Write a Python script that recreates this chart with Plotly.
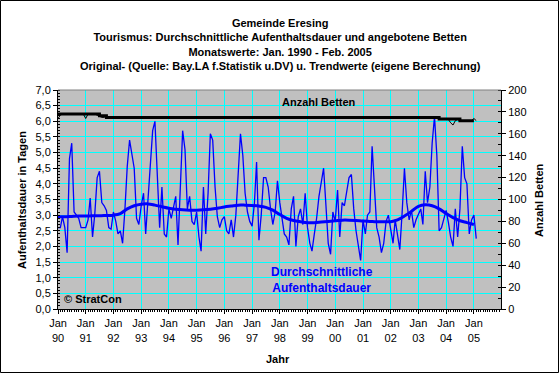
import plotly.graph_objects as go
import pandas as pd

# ---------------- data ----------------
years = list(range(1990, 2006))
year_labels = ["90", "91", "92", "93", "94", "95", "96", "97", "98", "99",
               "00", "01", "02", "03", "04", "05"]

# average length of stay (days), monthly Jan 1990 - Feb 2005
stay_1990 = [2.6, 2.6, 2.95, 2.6, 1.8, 4.8, 5.3, 3.1, 3.0, 2.9, 2.6, 2.6]
stay_1991 = [2.6, 2.85, 3.55, 2.3, 3.05, 4.2, 4.4, 3.4, 3.3, 3.15, 2.6, 2.55]
stay_1992 = [3.1, 2.8, 2.4, 2.5, 2.1, 3.2, 4.55, 5.4, 5.0, 4.5, 2.9, 2.7]
stay_1993 = [3.3, 3.7, 2.4, 3.5, 4.5, 5.7, 6.0, 4.5, 2.6, 3.9, 2.4, 2.3]
stay_1994 = [3.2, 2.9, 3.2, 3.6, 2.05, 3.7, 5.7, 5.1, 3.2, 3.6, 2.8, 2.7]
stay_1995 = [3.1, 2.3, 1.85, 3.9, 2.4, 3.7, 5.6, 5.4, 3.9, 2.95, 2.6, 2.85]
stay_1996 = [2.95, 2.5, 2.4, 2.85, 2.3, 3.0, 4.3, 5.6, 4.9, 3.7, 3.1, 2.8]
stay_1997 = [2.65, 3.4, 4.7, 2.2, 3.0, 4.2, 4.2, 3.9, 3.2, 2.7, 3.1, 4.1]
stay_1998 = [3.4, 2.85, 2.4, 2.3, 2.05, 3.2, 3.6, 2.0, 2.95, 3.2, 2.7, 3.7]
stay_1999 = [2.6, 2.1, 1.85, 2.4, 2.9, 3.6, 4.0, 4.5, 3.3, 2.1, 1.75, 3.1]
stay_2000 = [2.8, 3.8, 2.3, 3.4, 3.3, 3.7, 4.2, 4.3, 3.2, 2.5, 2.0, 1.55]
stay_2001 = [2.85, 2.4, 3.0, 3.1, 5.2, 3.7, 2.6, 2.3, 1.8, 2.1, 2.8, 3.0]
stay_2002 = [2.6, 2.1, 2.85, 2.3, 1.9, 3.1, 4.5, 3.4, 2.85, 3.15, 2.6, 2.85]
stay_2003 = [3.0, 3.2, 2.7, 4.4, 3.4, 3.9, 5.3, 6.15, 4.9, 2.5, 2.6, 2.85]
stay_2004 = [3.15, 2.75, 2.3, 2.0, 3.2, 2.3, 3.2, 5.2, 4.2, 4.0, 2.4, 2.85]
stay_2005 = [3.0, 2.25]

# trend of length of stay, quarterly (Jan, Apr, Jul, Oct)
stay_trend = [2.95, 2.95, 2.96, 2.97,
              2.97, 2.98, 2.98, 2.99,
              3.00, 3.05, 3.20, 3.30,
              3.35, 3.36, 3.32, 3.27,
              3.22, 3.19, 3.17, 3.16,
              3.16, 3.17, 3.19, 3.22,
              3.26, 3.29, 3.32, 3.32,
              3.31, 3.29, 3.25, 3.16,
              3.02, 2.90, 2.83, 2.79,
              2.76, 2.76, 2.78, 2.80,
              2.82, 2.84, 2.84, 2.83,
              2.81, 2.80, 2.79, 2.79,
              2.79, 2.85, 2.97, 3.12,
              3.28, 3.33, 3.30, 3.20,
              3.05, 2.92, 2.82, 2.76,
              2.70]

# beds offered, monthly
beds_1990 = [174, 177, 178, 178, 178, 178, 178, 178, 178, 178, 178, 178]
beds_1991 = [174, 178, 178, 178, 178, 177, 176, 175, 175, 176, 175, 175]
beds_1992 = [175, 175, 175, 175, 175, 175, 175, 175, 175, 175, 175, 175]
beds_1993 = [175, 175, 175, 175, 175, 175, 175, 175, 175, 175, 175, 175]
beds_1994 = [175, 175, 175, 175, 175, 175, 175, 175, 175, 175, 175, 175]
beds_1995 = [175, 175, 175, 175, 175, 175, 175, 175, 175, 175, 175, 175]
beds_1996 = [175, 175, 175, 175, 175, 175, 175, 175, 175, 175, 175, 174]
beds_1997 = [175, 174, 175, 175, 175, 175, 175, 175, 175, 175, 174, 175]
beds_1998 = [174, 175, 175, 175, 175, 175, 175, 175, 175, 175, 175, 175]
beds_1999 = [174, 175, 175, 175, 175, 175, 175, 175, 175, 175, 175, 175]
beds_2000 = [175, 175, 175, 175, 175, 175, 175, 175, 175, 175, 175, 175]
beds_2001 = [175, 175, 175, 175, 175, 175, 175, 175, 175, 175, 175, 175]
beds_2002 = [175, 175, 175, 175, 175, 175, 175, 175, 175, 175, 175, 175]
beds_2003 = [175, 175, 175, 175, 175, 175, 175, 175, 175, 173.5, 173.5, 173.5]
beds_2004 = [173.5, 173, 170, 168, 172, 173, 172, 172, 172, 172, 172, 172]
beds_2005 = [174, 172]

# trend of beds, quarterly
beds_trend = [178, 178, 178, 178,
              178, 178, 176.5, 175,
              175, 175, 175, 175,
              175, 175, 175, 175,
              175, 175, 175, 175,
              175, 175, 175, 175,
              175, 175, 175, 175,
              175, 175, 175, 175,
              175, 175, 175, 175,
              175, 175, 175, 175,
              175, 175, 175, 175,
              175, 175, 175, 175,
              175, 175, 175, 175,
              175, 175, 175, 173.5,
              173.5, 173.5, 172, 172,
              172]

stay = (stay_1990 + stay_1991 + stay_1992 + stay_1993 + stay_1994 + stay_1995 +
        stay_1996 + stay_1997 + stay_1998 + stay_1999 + stay_2000 + stay_2001 +
        stay_2002 + stay_2003 + stay_2004 + stay_2005)
beds = (beds_1990 + beds_1991 + beds_1992 + beds_1993 + beds_1994 + beds_1995 +
        beds_1996 + beds_1997 + beds_1998 + beds_1999 + beds_2000 + beds_2001 +
        beds_2002 + beds_2003 + beds_2004 + beds_2005)

months = pd.date_range("1990-01-01", periods=len(stay), freq="MS")
quarters = pd.date_range("1990-01-01", periods=len(stay_trend), freq="QS")

# ---------------- figure ----------------
FONT = "Liberation Sans, Arial, sans-serif"
L, R, T, B = 58, 59, 90, 65
W, H = 560, 374
PW, PH = W - L - R, H - T - B


def px(x):
    return (x - L) / PW


def py(y):
    return (H - B - y) / PH


fig = go.Figure()
fig.add_trace(go.Scatter(x=quarters, y=beds_trend, yaxis="y2", mode="lines",
                         line=dict(color="black", width=3, shape="hv"),
                         hoverinfo="skip", showlegend=False))
fig.add_trace(go.Scatter(x=months, y=beds, yaxis="y2", mode="lines",
                         line=dict(color="black", width=1),
                         showlegend=False))
fig.add_trace(go.Scatter(x=months, y=stay, mode="lines",
                         line=dict(color="#0000FF", width=1.3),
                         showlegend=False))
fig.add_trace(go.Scatter(x=quarters, y=stay_trend, mode="lines",
                         line=dict(color="#0000FF", width=3, shape="spline"),
                         showlegend=False))

tickvals = [pd.Timestamp(f"{y}-01-01") for y in years]
ticktext = [f"Jan<br>{t}" for t in year_labels]

fig.update_layout(
    width=W, height=H,
    margin=dict(l=L, r=R, t=T, b=B, pad=0),
    paper_bgcolor="white",
    plot_bgcolor="#C0C0C0",
    separators=",.",
    font=dict(family=FONT, size=11, color="black"),
    xaxis=dict(
        range=["1990-01-01", "2005-12-24"],
        tickvals=tickvals, ticktext=ticktext, tickangle=0,
        showgrid=True, gridcolor="#00FFFF", gridwidth=1,
        showline=True, linecolor="black", linewidth=1,
        ticks="outside", ticklen=4, tickcolor="black",
        minor=dict(dtick="M1", ticks="outside", ticklen=2, tickcolor="black",
                   showgrid=False),
        zeroline=False,
        tickfont=dict(size=11),
    ),
    yaxis=dict(
        range=[0, 7], dtick=0.5, tickformat=".1f",
        showgrid=True, gridcolor="#00FFFF", gridwidth=1,
        showline=True, linecolor="black", linewidth=1,
        ticks="outside", ticklen=4, tickcolor="black",
        minor=dict(dtick=0.1, ticks="inside", ticklen=2, tickcolor="black",
                   showgrid=False),
        zeroline=False,
        tickfont=dict(size=11),
    ),
    yaxis2=dict(
        range=[0, 200], dtick=20, overlaying="y", side="right",
        showgrid=False,
        showline=True, linecolor="black", linewidth=1,
        ticks="outside", ticklen=4, tickcolor="black",
        minor=dict(dtick=10, ticks="inside", ticklen=3, tickcolor="black"),
        zeroline=False,
        tickfont=dict(size=11),
    ),
    shapes=[
        # plot area top border
        dict(type="line", xref="paper", yref="paper", x0=0, x1=1, y0=1, y1=1,
             line=dict(color="#808080", width=1)),
        # outer frame
        dict(type="rect", xref="paper", yref="paper",
             x0=px(0.5), x1=px(558.5), y0=py(372.5), y1=py(0.5),
             line=dict(color="black", width=1)),
    ],
    annotations=[
        dict(text="<b>Gemeinde Eresing<br>Tourismus: Durchschnittliche Aufenthaltsdauer und angebotene Betten"
                  "<br>Monatswerte: Jan. 1990 - Feb. 2005"
                  "<br>Original- (Quelle: Bay.LA f.Statistik u.DV) u. Trendwerte (eigene Berechnung)</b>",
             xref="paper", yref="paper", x=px(280), y=py(44.5),
             xanchor="center", yanchor="middle", showarrow=False,
             font=dict(size=11, family=FONT)),
        dict(text="<b>Aufenthaltsdauer in Tagen</b>", textangle=-90,
             xref="paper", yref="paper", x=px(22), y=py(200),
             xanchor="center", yanchor="middle", showarrow=False,
             font=dict(size=11, family=FONT)),
        dict(text="<b>Anzahl Betten</b>", textangle=-90,
             xref="paper", yref="paper", x=px(539), y=py(200),
             xanchor="center", yanchor="middle", showarrow=False,
             font=dict(size=11, family=FONT)),
        dict(text="<b>Jahr</b>",
             xref="paper", yref="paper", x=px(278), y=py(359),
             xanchor="center", yanchor="middle", showarrow=False,
             font=dict(size=11, family=FONT)),
        dict(text="<b>Anzahl Betten</b>",
             xref="paper", yref="paper", x=px(318.5), y=py(102),
             xanchor="center", yanchor="middle", showarrow=False,
             font=dict(size=11, family=FONT, color="black")),
        dict(text="<b>Durchschnittliche<br>Aufenthaltsdauer</b>",
             xref="paper", yref="paper", x=px(322), y=py(279.5),
             xanchor="center", yanchor="middle", showarrow=False,
             font=dict(size=12, family=FONT, color="#0000FF")),
        dict(text="<b>© StratCon</b>",
             xref="paper", yref="paper", x=px(62), y=py(299),
             xanchor="left", yanchor="middle", showarrow=False,
             font=dict(size=11, family=FONT, color="black")),
    ],
)

fig.write_html("out.html",
               config={"displayModeBar": False},
               post_script="document.body.style.margin='0';document.body.style.padding='0';")
